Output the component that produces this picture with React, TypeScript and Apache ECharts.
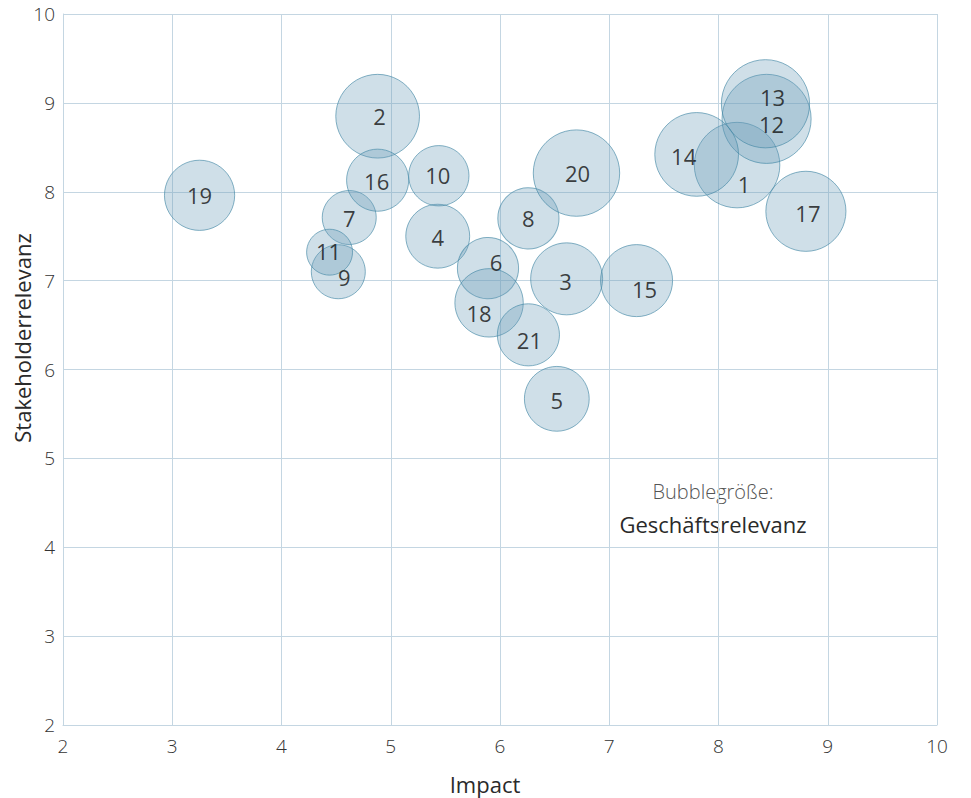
import React, { useEffect, useRef } from "react";
import * as echarts from "echarts";

const ids = ["1","2","3","4","5","6","7","8","9","10","11","12","13","14","15","16","17","18","19","20","21"];
const impact = [8.17, 4.88, 6.61, 5.43, 6.52, 5.89, 4.62, 6.26, 4.52, 5.44, 4.44, 8.44, 8.43, 7.80, 7.25, 4.88, 8.80, 5.90, 3.25, 6.70, 6.26];
const stakeholder = [8.30, 8.85, 7.02, 7.50, 5.67, 7.14, 7.71, 7.70, 7.10, 8.18, 7.32, 8.82, 8.99, 8.42, 7.00, 8.13, 7.78, 6.75, 7.96, 8.21, 6.39];
const businessRelevance = [9.5, 9.3, 8.0, 7.1, 7.2, 6.8, 6.0, 6.8, 6.0, 6.7, 5.1, 9.9, 9.8, 9.3, 8.0, 6.9, 8.9, 7.6, 7.8, 9.6, 6.9];
const axisTicks = [2, 3, 4, 5, 6, 7, 8, 9, 10];

// label nudges (styling only)
const labelNudge: [number, number][] = [
  [7, 19], [2, 0], [-1, 2], [0, 1], [0, 1], [8, -6], [0, 0], [0, 0], [6, 5], [-1, -1], [-1, -1],
  [5, 5], [7, -7], [-13, 2], [8, 8], [-1, 1], [2, 2], [-10, 10], [0, 0], [1, 0], [1, 5],
];

const FONT = "'Open Sans', 'Noto Sans', sans-serif";

export default function App() {
  const ref = useRef<HTMLDivElement>(null);
  useEffect(() => {
    if (!ref.current) return;
    const chart = echarts.init(ref.current, null, { renderer: "svg" });
    const data = ids.map((id, i) => ({
      name: id,
      value: [impact[i], stakeholder[i], businessRelevance[i]],
      label: { offset: labelNudge[i] },
    }));
    const gridColor = "#c4d6e2";
    chart.setOption({
      animation: false,
      grid: { left: 63, right: 34, top: 14, bottom: 73, containLabel: false },
      xAxis: {
        type: "value",
        min: axisTicks[0],
        max: axisTicks[axisTicks.length - 1],
        interval: 1,
        axisLine: { show: true, lineStyle: { color: gridColor, width: 1 } },
        axisTick: { show: false },
        splitLine: { show: true, lineStyle: { color: gridColor, width: 1 } },
        axisLabel: { color: "#333", fontSize: 19, fontFamily: FONT, fontWeight: 300, margin: 11 },
      },
      yAxis: {
        type: "value",
        min: axisTicks[0],
        max: axisTicks[axisTicks.length - 1],
        interval: 1,
        axisLine: { show: true, lineStyle: { color: gridColor, width: 1 } },
        axisTick: { show: false },
        splitLine: { show: true, lineStyle: { color: gridColor, width: 1 } },
        axisLabel: { color: "#333", fontSize: 19, fontFamily: FONT, fontWeight: 300, margin: 8 },
      },
      series: [
        {
          type: "scatter",
          data,
          symbolSize: (v: number[]) => v[2] * 9,
          itemStyle: {
            color: "rgba(105,155,185,0.4)",
            borderColor: "rgba(65,135,165,0.8)",
            borderWidth: 1,
          },
          label: {
            show: true,
            position: "inside",
            formatter: (p: any) => p.name,
            color: "#111",
            fontSize: 22,
            fontFamily: FONT,
          },
          emphasis: { disabled: true },
        },
      ],
      graphic: [
        {
          type: "text",
          x: 22,
          y: 338,
          rotation: Math.PI / 2,
          style: {
            text: "Stakeholderrelevanz",
            fontSize: 22,
            fontFamily: FONT,
            fill: "#2a2a2a",
            align: "center",
            verticalAlign: "middle",
          },
        },
        {
          type: "text",
          x: 485,
          y: 784,
          style: {
            text: "Impact",
            fontSize: 22,
            fontFamily: FONT,
            fill: "#2a2a2a",
            align: "center",
            verticalAlign: "middle",
          },
        },
        {
          type: "text",
          x: 713,
          y: 491,
          style: {
            text: "Bubblegröße:",
            fontSize: 20,
            fontFamily: FONT,
            fontWeight: 300,
            fill: "#555",
            align: "center",
            verticalAlign: "middle",
          },
        },
        {
          type: "text",
          x: 713,
          y: 524,
          style: {
            text: "Geschäftsrelevanz",
            fontSize: 22,
            fontFamily: FONT,
            fill: "#2a2a2a",
            align: "center",
            verticalAlign: "middle",
          },
        },
      ],
    });
    return () => chart.dispose();
  }, []);
  return (
    <div
      ref={ref}
      style={{ position: "absolute", left: 0, top: 0, width: 971, height: 798 }}
    />
  );
}
